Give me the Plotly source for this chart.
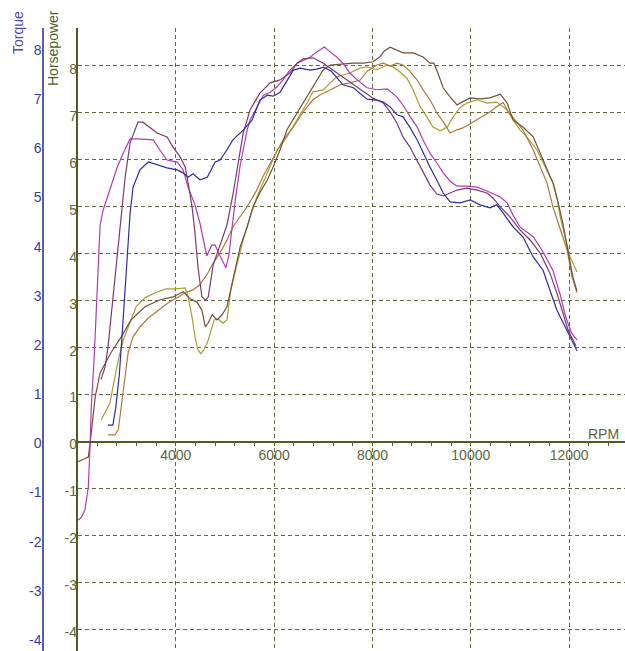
import plotly.graph_objects as go

# ---- dyno runs: engine speed (rpm) and readings ----
# Torque runs (left, blue "Torque" axis)
tq_magenta_rpm = [2010, 2070, 2150, 2220, 2260, 2280, 2340, 2380, 2420, 2460, 2520, 2660, 2810, 2930, 3070,
                  3230, 3540, 3680, 3820, 4030, 4150, 4250, 4390, 4490, 4560, 4630, 4730, 4800, 4900, 5020,
                  5080, 5140, 5210, 5310, 5450, 5510, 5650, 5780, 5920, 6060, 6180, 6320, 6470, 6590, 6730,
                  6870, 7020, 7140, 7280, 7400, 7540, 7690, 7890, 8090, 8300, 8500, 8620, 8770, 8910, 9030,
                  9170, 9310, 9440, 9580, 9720, 9920, 10130, 10330, 10600, 10740, 10860, 11000, 11270, 11470,
                  11670, 11820, 11920, 12040, 12160]
tq_magenta = [-1.56, -1.52, -1.36, -0.89, 0.07, 0.74, 1.76, 2.77, 3.46, 4.44, 4.74, 5.15, 5.62, 5.90, 6.19,
              6.19, 6.17, 5.96, 5.76, 5.72, 5.56, 5.21, 4.85, 4.48, 4.13, 3.81, 4.03, 4.03, 3.81, 3.57,
              3.83, 4.34, 4.95, 5.66, 6.37, 6.57, 6.84, 7.08, 7.14, 7.25, 7.39, 7.59, 7.73, 7.79, 7.85,
              7.96, 8.06, 7.96, 7.85, 7.73, 7.53, 7.39, 7.23, 7.19, 7.21, 7.04, 6.88, 6.64, 6.43, 6.17,
              5.90, 5.70, 5.50, 5.33, 5.23, 5.23, 5.21, 5.13, 5.01, 4.89, 4.64, 4.40, 4.20, 3.89,
              3.52, 3.02, 2.61, 2.26, 2.10]

tq_purple_rpm = [2480, 2560, 2620, 2760, 2870, 2970, 3070, 3170, 3230, 3330, 3480, 3620, 3820, 3940, 4090,
                 4190, 4250, 4330, 4390, 4450, 4530, 4600, 4660, 4760, 4900, 5040, 5160, 5250, 5370, 5510,
                 5710, 5920, 6120, 6320, 6470, 6590, 6790, 7000, 7200, 7480, 7750, 8010, 8220, 8360, 8500,
                 8620, 8760, 8910, 9030, 9170, 9310, 9440, 9580, 9720, 9920, 10130, 10330, 10450, 10600,
                 10800, 11000, 11210, 11410, 11610, 11750, 11860, 11980, 12080, 12140]
tq_purple = [1.30, 1.55, 1.95, 3.38, 4.40, 5.42, 6.11, 6.37, 6.53, 6.53, 6.41, 6.31, 6.23, 6.03, 5.82,
             5.62, 5.30, 4.81, 4.28, 3.59, 2.98, 2.91, 2.98, 3.63, 4.03, 4.44, 5.05, 5.62, 6.31, 6.78,
             7.12, 7.33, 7.39, 7.53, 7.73, 7.82, 7.84, 7.73, 7.59, 7.39, 7.19, 7.02, 6.92, 6.74, 6.51,
             6.23, 6.03, 5.76, 5.52, 5.25, 5.07, 5.03, 5.09, 5.15, 5.19, 5.15, 5.09, 4.99, 4.81,
             4.60, 4.34, 4.13, 3.87, 3.46, 3.06, 2.71, 2.30, 2.10, 1.98]

tq_blue_rpm = [2620, 2720, 2780, 2850, 2910, 2970, 3010, 3070, 3130, 3270, 3440, 3620, 3820, 4030, 4150,
               4250, 4350, 4490, 4640, 4800, 4900, 5040, 5160, 5370, 5550, 5710, 5860, 5980, 6120, 6260,
               6390, 6530, 6730, 6870, 7000, 7160, 7280, 7400, 7610, 7750, 7890, 8090, 8220, 8360, 8500,
               8620, 8760, 8910, 9030, 9170, 9310, 9440, 9580, 9780, 9990, 10190, 10390, 10530, 10660,
               10860, 11060, 11270, 11470, 11610, 11750, 11880, 12020, 12160]
tq_blue = [0.37, 0.37, 0.74, 1.39, 2.24, 3.22, 3.83, 4.68, 5.21, 5.56, 5.72, 5.66, 5.60, 5.56, 5.50,
           5.41, 5.48, 5.36, 5.41, 5.72, 5.76, 5.97, 6.17, 6.37, 6.57, 6.98, 7.08, 7.06, 7.14, 7.37,
           7.59, 7.63, 7.59, 7.61, 7.65, 7.57, 7.43, 7.29, 7.23, 7.12, 7.00, 6.98, 6.94, 6.84, 6.68,
           6.64, 6.43, 6.17, 5.90, 5.62, 5.35, 5.09, 4.91, 4.89, 4.95, 4.85, 4.79, 4.85, 4.68,
           4.40, 4.20, 3.79, 3.52, 3.12, 2.71, 2.45, 2.16, 1.88]

# Horsepower runs (olive "Horsepower" axis)
hp_olive_rpm = [2480, 2660, 2720, 2830, 2930, 3030, 3190, 3370, 3580, 3800, 4010, 4190, 4250, 4330, 4390,
                4450, 4510, 4570, 4640, 4700, 4780, 4860, 4960, 5040, 5120, 5250, 5370, 5510, 5650, 5860,
                6060, 6260, 6470, 6670, 6790, 7000, 7140, 7280, 7540, 7750, 7890, 8090, 8300, 8420, 8560,
                8700, 8830, 8970, 9110, 9230, 9380, 9520, 9640, 9780, 9920, 10130, 10330, 10530, 10740,
                10860, 11000, 11140, 11350, 11470, 11610, 11690, 11750, 11820, 11920, 12020, 12080, 12160]
hp_olive = [0.46, 0.82, 1.16, 1.74, 2.16, 2.44, 2.87, 3.06, 3.17, 3.25, 3.25, 3.27, 3.08, 2.65, 2.23,
            1.95, 1.87, 1.95, 2.10, 2.31, 2.59, 2.61, 2.52, 2.59, 3.23, 3.80, 4.29, 4.78, 5.21, 5.72,
            6.21, 6.49, 6.85, 7.21, 7.45, 7.49, 7.64, 7.77, 7.85, 7.96, 7.98, 7.92, 8.02, 7.98, 7.87,
            7.74, 7.49, 7.13, 6.91, 6.70, 6.62, 6.70, 6.91, 7.11, 7.21, 7.28, 7.21, 7.23, 7.06,
            6.85, 6.64, 6.49, 6.21, 5.93, 5.64, 5.47, 5.21, 4.78, 4.36, 3.93, 3.80, 3.61]

hp_tan_rpm = [2620, 2760, 2830, 2890, 2970, 3030, 3130, 3270, 3440, 3640, 3840, 4050, 4190, 4350, 4490,
              4640, 4760, 4900, 5040, 5160, 5310, 5450, 5650, 5770, 5980, 6180, 6390, 6590, 6790, 6930,
              7140, 7340, 7540, 7750, 7890, 8090, 8220, 8360, 8500, 8620, 8760, 8910, 9030, 9170, 9310,
              9440, 9580, 9720, 9840, 9990, 10190, 10390, 10550, 10660, 10740, 10860, 11060, 11270, 11410,
              11550, 11670, 11820, 11960, 12060, 12160]
hp_tan = [0.14, 0.14, 0.25, 0.74, 1.31, 1.89, 2.23, 2.44, 2.63, 2.80, 2.95, 3.08, 3.17, 3.23, 3.34,
          3.57, 3.80, 4.02, 4.29, 4.57, 4.78, 5.00, 5.36, 5.64, 6.04, 6.42, 6.70, 7.02, 7.28, 7.38,
          7.49, 7.60, 7.64, 7.70, 7.89, 8.02, 8.06, 8.00, 8.06, 8.02, 7.89, 7.70, 7.49, 7.28, 7.00,
          6.81, 6.57, 6.64, 6.68, 6.77, 6.89, 7.02, 7.15, 7.22, 7.06, 6.91, 6.64, 6.21, 5.85,
          5.51, 5.00, 4.51, 4.08, 3.51, 3.17]

hp_brown_rpm = [2010, 2220, 2280, 2360, 2460, 2560, 2680, 2890, 3090, 3370, 3680, 3940, 4150, 4290, 4430,
                4530, 4600, 4660, 4740, 4840, 4940, 5040, 5100, 5210, 5310, 5450, 5570, 5710, 5860, 5980,
                6120, 6260, 6470, 6590, 6730, 6870, 7000, 7140, 7340, 7610, 7810, 8010, 8150, 8240, 8360,
                8500, 8620, 8830, 9030, 9170, 9250, 9330, 9440, 9580, 9720, 9820, 9990, 10190, 10390,
                10600, 10740, 10860, 11060, 11270, 11410, 11550, 11670, 11780, 11880, 11980, 12080, 12160]
hp_brown = [-0.43, -0.33, 0.18, 0.95, 1.46, 1.67, 1.89, 2.23, 2.59, 2.87, 3.02, 3.08, 3.19, 3.04, 2.97,
            2.80, 2.44, 2.53, 2.70, 2.59, 2.70, 2.87, 3.17, 3.66, 4.15, 4.57, 5.00, 5.30, 5.57, 5.85,
            6.21, 6.64, 7.00, 7.21, 7.43, 7.70, 7.92, 8.02, 8.04, 8.06, 8.06, 8.09, 8.19, 8.32, 8.40,
            8.34, 8.28, 8.28, 8.19, 8.06, 8.06, 7.85, 7.53, 7.34, 7.17, 7.23, 7.32, 7.30, 7.32,
            7.40, 7.21, 6.85, 6.70, 6.49, 6.15, 5.79, 5.51, 5.08, 4.61, 4.04, 3.49, 3.21]

rpm_labels = [4000, 6000, 8000, 10000, 12000]
scale_ticks = list(range(-4, 9))
scale_labels = [str(v) for v in scale_ticks]   # plain hyphen minus, e.g. "-4"

# ---- styling ----
W, H = 625, 651
AXIS_X = 77.5          # horizontal pixel of the Horsepower axis line
TQ_AXIS_X = 43         # horizontal pixel of the Torque axis line
TOP = 28               # top of the plotting area
PX_PER_KRPM = 49.16
GRID = "#5f6b3c"
OLIVE = "#4f5c24"
OLIVE_TXT = "#5c6640"
BLUE_LINE = "#5a5ab8"
BLUE_TXT = "#3a3aa6"
FONT = "Liberation Sans, Arial, sans-serif"

fig = go.Figure()

torque_runs = [
    (tq_magenta_rpm, tq_magenta, "#b23ab2"),
    (tq_purple_rpm, tq_purple, "#7b3a6e"),
    (tq_blue_rpm, tq_blue, "#2c2ca6"),
]
hp_runs = [
    (hp_olive_rpm, hp_olive, "#a6a032"),
    (hp_tan_rpm, hp_tan, "#b0783a"),
    (hp_brown_rpm, hp_brown, "#70523a"),
]

for rpm, vals, col in hp_runs:
    fig.add_trace(go.Scatter(x=rpm, y=vals, mode="lines", yaxis="y",
                             line=dict(color=col, width=1.2), hoverinfo="skip"))
for rpm, vals, col in torque_runs:
    fig.add_trace(go.Scatter(x=rpm, y=vals, mode="lines", yaxis="y2",
                             line=dict(color=col, width=1.2), hoverinfo="skip"))

x_max = 2000 + (W - AXIS_X) / PX_PER_KRPM * 1000
hp_range = [-4.463, 8.809]
tq_range = [-4.224, 8.446]
zero_px = TOP + (hp_range[1] / (hp_range[1] - hp_range[0])) * (H - TOP)

fig.update_layout(
    width=W, height=H,
    margin=dict(l=0, r=0, t=0, b=0),
    paper_bgcolor="white", plot_bgcolor="white",
    showlegend=False,
    font=dict(family=FONT, size=14),
    xaxis=dict(
        domain=[AXIS_X / W, 1], range=[2000, x_max],
        anchor="free", position=(H - zero_px) / H,
        showline=True, linecolor=OLIVE, linewidth=1.5,
        tickmode="array", tickvals=rpm_labels, ticktext=[str(v) for v in rpm_labels],
        ticks="outside", ticklen=4, tickcolor=OLIVE, tickwidth=1,
        ticklabelstandoff=-3,
        tickfont=dict(color=OLIVE_TXT, size=14, family=FONT),
        showgrid=True, gridcolor=GRID, gridwidth=1, griddash="4px,3px",
        zeroline=False,
        minor=dict(tick0=2000, dtick=400, ticks="outside", ticklen=4,
                   tickcolor=OLIVE, tickwidth=1, showgrid=False),
        automargin=False, fixedrange=True,
    ),
    yaxis=dict(
        domain=[0, (H - TOP) / H], range=hp_range, anchor="x", side="left",
        showline=True, linecolor=OLIVE, linewidth=1.5,
        tickmode="array", tickvals=scale_ticks, ticktext=scale_labels, ticks="",
        ticklabelstandoff=-4, ticklabelshift=3,
        tickfont=dict(color=OLIVE_TXT, size=14, family=FONT),
        showgrid=True, gridcolor=GRID, gridwidth=1, griddash="4px,3px",
        zeroline=False, automargin=False, fixedrange=True,
    ),
    yaxis2=dict(
        overlaying="y", anchor="free", position=TQ_AXIS_X / W, side="left",
        range=tq_range, tickmode="array", tickvals=scale_ticks, ticktext=scale_labels, ticks="",
        ticklabelstandoff=-2,
        showline=True, linecolor=BLUE_LINE, linewidth=1.5,
        tickfont=dict(color=BLUE_TXT, size=14, family=FONT),
        showgrid=False, zeroline=False, automargin=False, fixedrange=True,
    ),
    annotations=[
        dict(text="Torque", x=18 / W, y=1 - 33 / H, xref="paper", yref="paper",
             textangle=-90, showarrow=False, xanchor="center", yanchor="middle",
             font=dict(color="#4848b4", size=14, family=FONT)),
        dict(text="Horsepower", x=53 / W, y=1 - 48 / H, xref="paper", yref="paper",
             textangle=-90, showarrow=False, xanchor="center", yanchor="middle",
             font=dict(color="#4e5e26", size=14, family=FONT)),
        dict(text="RPM", x=603 / W, y=1 - 434 / H, xref="paper", yref="paper",
             showarrow=False, xanchor="center", yanchor="middle",
             font=dict(color=OLIVE_TXT, size=14, family=FONT)),
    ],
)

fig.write_html("out.html")
